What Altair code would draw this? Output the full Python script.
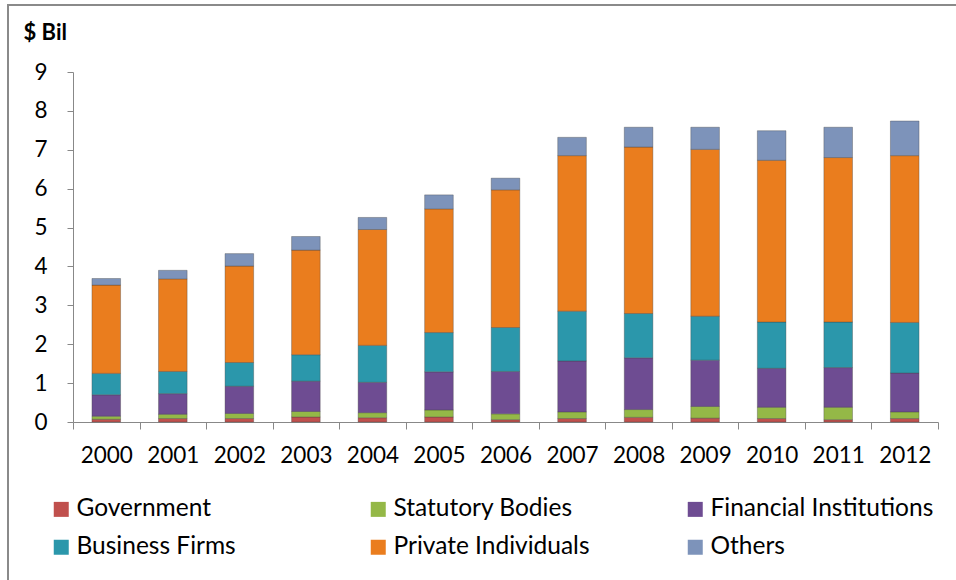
import altair as alt
import pandas as pd

years = ["2000", "2001", "2002", "2003", "2004", "2005", "2006",
         "2007", "2008", "2009", "2010", "2011", "2012"]
series = ["Government", "Statutory Bodies", "Financial Institutions",
          "Business Firms", "Private Individuals", "Others"]
colors = ["#C0504D", "#94B847", "#6E4C92", "#2B97AB", "#EA7D1E", "#7D93BA"]

government = [0.07, 0.09, 0.09, 0.13, 0.11, 0.13, 0.06, 0.09, 0.12, 0.10, 0.09, 0.06, 0.09]
statutory = [0.08, 0.11, 0.13, 0.14, 0.13, 0.18, 0.15, 0.17, 0.20, 0.30, 0.29, 0.32, 0.17]
financial = [0.55, 0.53, 0.70, 0.78, 0.78, 0.98, 1.09, 1.31, 1.33, 1.19, 1.00, 1.02, 1.00]
business = [0.55, 0.57, 0.61, 0.68, 0.95, 1.01, 1.13, 1.28, 1.14, 1.13, 1.19, 1.17, 1.30]
private = [2.27, 2.38, 2.48, 2.69, 2.98, 3.18, 3.54, 4.00, 4.28, 4.29, 4.16, 4.23, 4.29]
others = [0.17, 0.22, 0.32, 0.35, 0.31, 0.36, 0.30, 0.47, 0.51, 0.57, 0.76, 0.78, 0.89]

values = [government, statutory, financial, business, private, others]
rows = []
for si, (name, vals) in enumerate(zip(series, values)):
    for y, v in zip(years, vals):
        rows.append({"Year": y, "Holder": name, "Value": v, "Order": si})
df = pd.DataFrame(rows)

FONT = "Lato"

bars = alt.Chart(df).mark_bar(
    width=alt.RelativeBandSize(0.43),
    stroke="#404040", strokeOpacity=0.35, strokeWidth=1
).encode(
    x=alt.X("Year:N", sort=years,
            scale=alt.Scale(paddingInner=0, paddingOuter=0),
            axis=alt.Axis(title=None, labelAngle=0, labelFontSize=22.5,
                          labelFont=FONT, labelColor="#000000",
                          domainColor="#888888", tickColor="#888888",
                          tickBand="extent", tickSize=7, labelPadding=15,
                          grid=False)),
    y=alt.Y("Value:Q", stack="zero",
            scale=alt.Scale(domain=[0, 9], nice=False),
            axis=alt.Axis(title="$ Bil", titleAngle=0, titleFont=FONT,
                          titleFontSize=22, titleFontWeight="bold",
                          titleColor="#000000", titleAlign="left",
                          titleBaseline="middle", titleX=-50, titleY=-40,
                          values=list(range(10)), labelFontSize=22.5,
                          labelFont=FONT, labelColor="#000000",
                          domainColor="#888888", tickColor="#888888",
                          tickSize=6, labelPadding=20, grid=False)),
    color=alt.Color("Holder:N", sort=series,
                    scale=alt.Scale(domain=series, range=colors),
                    legend=alt.Legend(title=None, orient="none",
                                      legendX=-24, legendY=425,
                                      direction="horizontal",
                                      columns=3, gridAlign="all",
                                      columnPadding=66, rowPadding=13,
                                      padding=0,
                                      symbolType="square", symbolSize=225,
                                      symbolStrokeWidth=0,
                                      labelFont=FONT, labelFontSize=24.5,
                                      labelColor="#000000", labelLimit=400,
                                      labelOffset=3)),
    order=alt.Order("Order:Q", sort="ascending"),
)

frame = alt.Chart(pd.DataFrame({"a": [0]})).mark_rect(
    fill=None, stroke="#8a8a8a", strokeWidth=2
).encode(
    x=alt.value(-65), x2=alt.value(960),
    y=alt.value(-67), y2=alt.value(560),
)

chart = alt.layer(frame, bars).properties(
    width=865, height=350,
    background="#ffffff",
    autosize=alt.AutoSizeParams(type="none"),
    padding={"left": 73, "top": 72, "right": 18, "bottom": 158},
).configure_view(stroke=None)

chart.save("out.html", embed_options={"renderer": "svg", "actions": False})
